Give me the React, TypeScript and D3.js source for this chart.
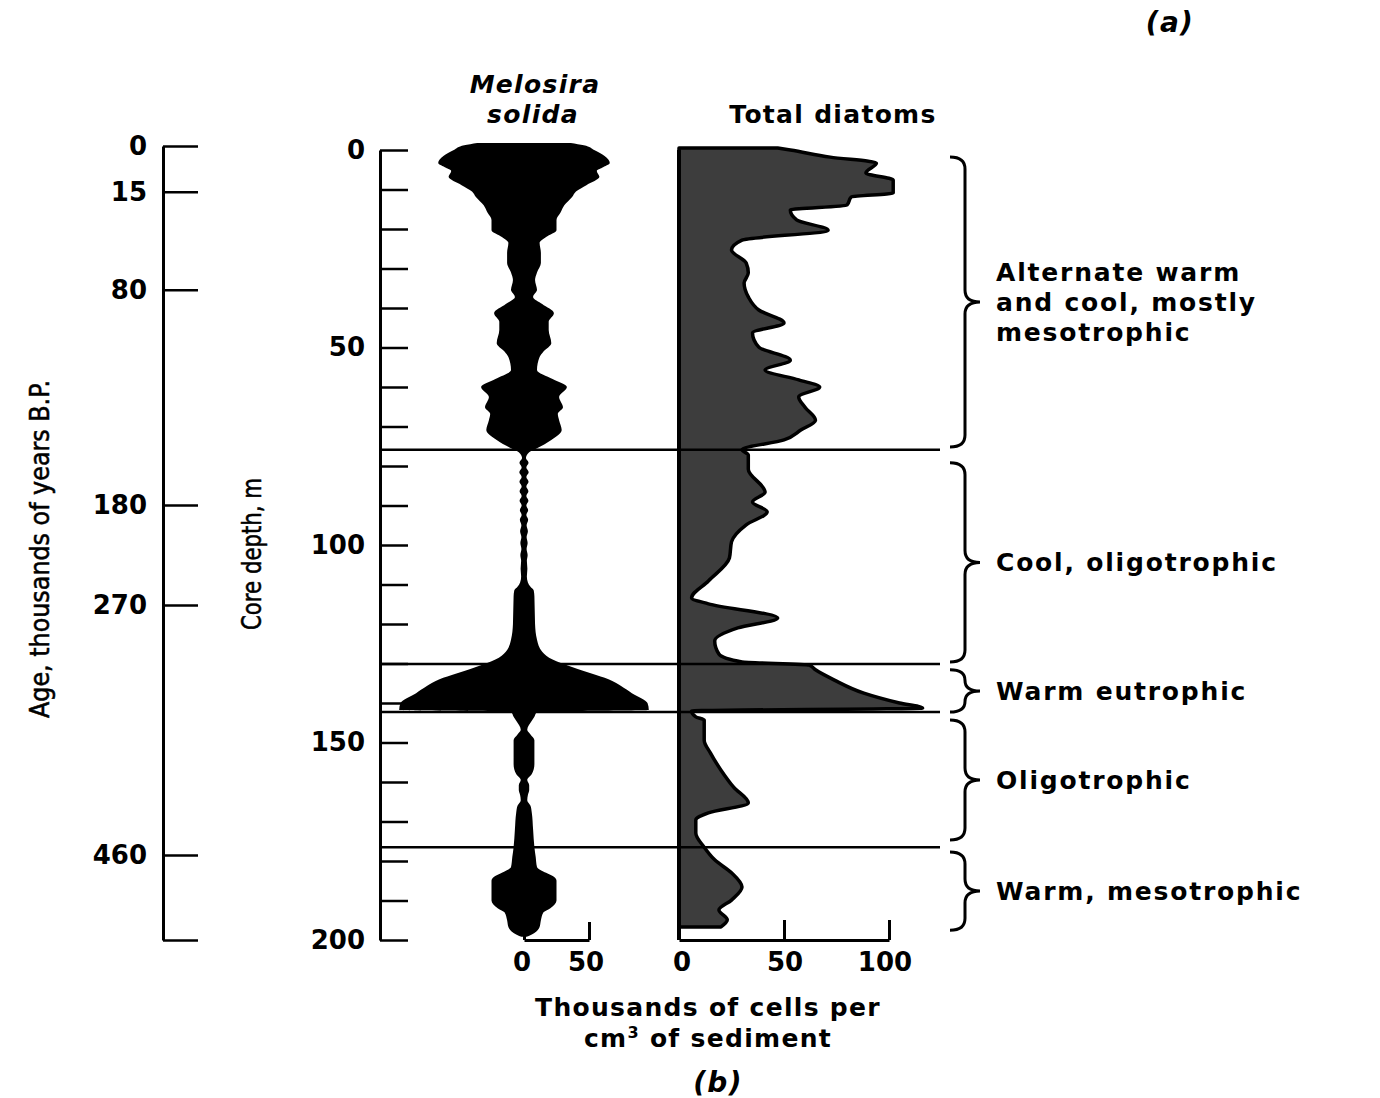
import { useEffect, useRef } from 'react';
import * as d3 from 'd3';

// Melosira solida: half-width of the silhouette (thousands of cells per cm3) by core depth (m)
const melosiraDepth = [
  -1.8, -1.2, 0, 1.5, 3.3, 4.5, 5.3, 6.8, 8.9, 10.5, 11.9, 14, 15.9, 17.7, 20.3, 22, 23.5, 26, 28.6, 31,
  32.9, 35.4, 37.2, 39, 41.3, 43.5, 45.6, 48.9, 51, 52.4, 55.7, 58, 60, 62.5, 65.1, 66.8, 68.4, 70.9, 73.4, 75.5,
  76.5, 78, 79.2, 80.4, 81.6, 82.8, 84, 85.2, 86.4, 87.6, 88.8, 90, 91.2, 92.4, 93.6, 95, 96.5, 98, 99.5, 101,
  102.5, 104, 106, 108, 109.5, 110.6, 111.5, 113, 120, 124, 127, 129, 131, 134, 137.5, 140, 141.8, 142.2, 143.5, 144.5,
  146.8, 148, 149.4, 152, 155.5, 158, 159.5, 160.8, 162, 163.3, 164.6, 166, 167.8, 172, 176.5, 179, 181.5, 183, 184, 185,
  190, 192, 193, 195, 196.7, 198.2, 199.2,
];
const melosiraValue = [
  36, 46, 54, 62, 66, 60, 56, 58, 48, 40, 37, 31, 28, 25, 25, 17, 12, 13, 13, 10,
  8.5, 10, 7, 14, 23, 19, 19, 21, 15, 12, 10, 22, 33, 27, 30, 26, 27, 29, 21, 10,
  4, 1.5, 3.5, 1.8, 3.6, 1.8, 3.5, 1.8, 3.4, 1.8, 3.4, 1.8, 3.2, 1.8, 3.2, 2, 3, 2, 2.8, 2,
  2.8, 2.2, 2.6, 2.2, 3, 5, 7.5, 8, 8.5, 10, 14, 22, 38, 65, 83, 95, 96, 10, 8, 6,
  2.5, 5, 8, 8, 8, 6, 2.5, 4, 4, 3, 2.5, 5, 6, 7, 8, 9, 10, 17, 23, 25,
  25, 20, 15, 13, 12, 8, 2,
];

// Total diatoms (thousands of cells per cm3) by core depth (m)
const diatomDepth = [
  -0.5, 0, 1.8, 3.3, 5.8, 7.6, 10.9, 11.9, 13.9, 15.2, 17.7, 20.3, 22.8, 25.3, 28.6, 31.1, 33.7, 37.2, 40.5, 43.8,
  46.3, 49.9, 53.2, 55.7, 58.2, 60, 62.5, 65.1, 68.4, 70.9, 73.4, 75.9, 77.2, 80.8, 86.6, 89.1, 91.6, 94.9, 99.2, 103.3,
  109.1, 113.4, 114.9, 118.5, 121, 124.3, 127.6, 129.6, 130.4, 131.6, 134.2, 137.5, 140, 141.3, 142, 143.5, 144.3, 149.4, 152.7, 157,
  161.3, 165.3, 167.8, 169.6, 172.9, 176.5, 179.7, 183, 186.6, 189.9, 192.4, 194.9, 196.7,
];
const diatomValue = [
  47, 53, 72, 94, 89, 102, 102, 82, 80, 53, 56, 71, 30, 25, 32, 33, 31, 33, 38, 50,
  35, 38, 53, 41, 57, 67, 57, 60, 65, 58, 50, 30, 33, 33, 41, 35, 42, 32, 25, 24,
  14, 6, 14, 47, 28, 17, 19, 30, 62, 65, 74, 88, 105, 116, 6, 8, 12, 12, 15, 20,
  26, 33, 14, 8, 8, 12, 17, 25, 30, 25, 19, 23, 20,
];

const ageLabels = [0, 15, 80, 180, 270, 460];
const ageTickDepth = [-1, 10.6, 35.4, 89.9, 115.2, 178.5];
const depthLabels = [0, 50, 100, 150, 200];
const zoneBoundaries = [75.9, 130.1, 142.3, 176.5];
const zoneStart = [1.8, 79.2, 131.6, 144.3, 177.7];
const zoneEnd = [75.2, 129.6, 142.3, 174.7, 197.5];
const zoneLabels = [
  ['Alternate warm', 'and cool, mostly', 'mesotrophic'],
  ['Cool, oligotrophic'],
  ['Warm eutrophic'],
  ['Oligotrophic'],
  ['Warm, mesotrophic'],
];

const FONT = '"DejaVu Sans", Verdana, sans-serif';
const NARROW = '"DejaVu Sans Condensed", "Liberation Sans Narrow", "Liberation Sans", sans-serif';

const App = () => {
  const ref = useRef<SVGSVGElement | null>(null);

  useEffect(() => {
    if (!ref.current) return;
    const svg = d3.select(ref.current);
    svg.selectAll('*').remove();

    const width = 1380;
    const height = 1098;
    svg.attr('width', width).attr('height', height);
    svg.append('rect').attr('width', width).attr('height', height).attr('fill', '#fff');

    // scales
    const y = d3.scaleLinear().domain([0, 200]).range([150, 940]);
    const axisX = 380;
    const melCenter = 524;
    const xMel = d3.scaleLinear().domain([0, 50]).range([melCenter, 589]);
    const xDia = d3.scaleLinear().domain([0, 100]).range([679, 889]);

    // Melosira silhouette (mirrored)
    const mel = melosiraDepth.map((d, i) => ({ d, v: melosiraValue[i] }));
    const melArea = d3.area<{ d: number; v: number }>()
      .y(p => y(p.d))
      .x0(p => 2 * melCenter - xMel(p.v))
      .x1(p => xMel(p.v))
      .curve(d3.curveMonotoneY);
    svg.append('path').attr('d', melArea(mel) || '').attr('fill', '#000');

    // Total diatoms
    const dia = diatomDepth.map((d, i) => ({ d, v: diatomValue[i] }));
    const diaArea = d3.area<{ d: number; v: number }>()
      .y(p => y(p.d))
      .x0(xDia(0))
      .x1(p => xDia(p.v))
      .curve(d3.curveMonotoneY);
    svg.append('path')
      .attr('d', diaArea(dia) || '')
      .attr('fill', '#3d3d3d')
      .attr('stroke', '#000')
      .attr('stroke-width', 3.5)
      .attr('stroke-linejoin', 'round');

    // zone boundaries
    svg.append('g').selectAll('line')
      .data(zoneBoundaries)
      .enter()
      .append('line')
      .attr('x1', axisX)
      .attr('x2', 940)
      .attr('y1', d => y(d))
      .attr('y2', d => y(d))
      .attr('stroke', '#000')
      .attr('stroke-width', 2.5);

    // diatom baseline
    svg.append('line')
      .attr('x1', xDia(0)).attr('x2', xDia(0))
      .attr('y1', y(0)).attr('y2', y(200))
      .attr('stroke', '#000').attr('stroke-width', 4);

    // core depth axis
    const depthAxis = svg.append('g')
      .attr('transform', `translate(${axisX},0)`)
      .call(d3.axisLeft(y)
        .tickValues(d3.range(0, 201, 10))
        .tickSizeInner(-28)
        .tickSizeOuter(0)
        .tickPadding(15)
        .tickFormat(d => (depthLabels.includes(+d) ? String(d) : '')));
    depthAxis.select('.domain').attr('stroke-width', 3);
    depthAxis.selectAll('.tick line').attr('stroke-width', 2.5);
    depthAxis.selectAll('text')
      .style('font-family', FONT).style('font-size', '26px').style('font-weight', 'bold')
      .attr('fill', '#000');

    // age axis
    const yAge = d3.scaleLinear().domain([-1, 200]).range([y(-1), y(200)]);
    const ageAxis = svg.append('g')
      .attr('transform', 'translate(163,0)')
      .call(d3.axisLeft(yAge)
        .tickValues([...ageTickDepth, 200])
        .tickSizeInner(-35)
        .tickSizeOuter(0)
        .tickPadding(16)
        .tickFormat((d, i) => (i < ageLabels.length ? String(ageLabels[i]) : '')));
    ageAxis.select('.domain').attr('stroke-width', 3);
    ageAxis.selectAll('.tick line').attr('stroke-width', 2.5);
    ageAxis.selectAll('text')
      .style('font-family', FONT).style('font-size', '26px').style('font-weight', 'bold')
      .attr('fill', '#000');

    // bottom scales
    const melAxis = svg.append('g')
      .attr('transform', `translate(0,${y(200)})`)
      .call(d3.axisTop(xMel).tickValues([0, 50]).tickSizeInner(18).tickSizeOuter(0).tickFormat(() => ''));
    melAxis.select('.domain').attr('stroke-width', 3);
    melAxis.selectAll('.tick line').attr('stroke-width', 3);

    const diaAxis = svg.append('g')
      .attr('transform', `translate(0,${y(200)})`)
      .call(d3.axisTop(xDia).tickValues([50, 100]).tickSizeInner(20).tickSizeOuter(0).tickFormat(() => ''));
    diaAxis.select('.domain').attr('stroke-width', 3);
    diaAxis.selectAll('.tick line').attr('stroke-width', 3);

    const bottomLabels = [
      { x: xMel(0) - 2, t: '0' }, { x: xMel(50) - 3, t: '50' },
      { x: xDia(0) + 3, t: '0' }, { x: xDia(50) + 1, t: '50' }, { x: xDia(100) - 4, t: '100' },
    ];
    svg.append('g').selectAll('text')
      .data(bottomLabels)
      .enter()
      .append('text')
      .attr('x', d => d.x)
      .attr('y', 971)
      .attr('text-anchor', 'middle')
      .style('font-family', FONT).style('font-size', '26px').style('font-weight', 'bold')
      .text(d => d.t);

    // braces and zone labels
    const brace = (y1: number, y2: number) => {
      const x0 = 950, x1 = 965, x2 = 980;
      const ym = (y1 + y2) / 2;
      const r = Math.min(12, (y2 - y1) / 4);
      return `M${x0},${y1} Q${x1},${y1} ${x1},${y1 + r} L${x1},${ym - r} Q${x1},${ym} ${x2},${ym}` +
        ` Q${x1},${ym} ${x1},${ym + r} L${x1},${y2 - r} Q${x1},${y2} ${x0},${y2}`;
    };
    zoneStart.forEach((s, i) => {
      const y1 = y(s);
      const y2 = y(zoneEnd[i]);
      svg.append('path').attr('d', brace(y1, y2)).attr('fill', 'none')
        .attr('stroke', '#000').attr('stroke-width', 3);
      const lines = zoneLabels[i];
      const ym = (y1 + y2) / 2;
      lines.forEach((ln, j) => {
        svg.append('text')
          .attr('x', 996)
          .attr('y', ym + (j - (lines.length - 1) / 2) * 30 + 9)
          .style('font-family', FONT).style('font-size', '25px').style('font-weight', 'bold')
          .style('letter-spacing', '1.8px')
          .text(ln);
      });
    });

    // headers
    const hdr = (x: number, yy: number, t: string, italic = false, size = 25) =>
      svg.append('text').attr('x', x).attr('y', yy).attr('text-anchor', 'middle')
        .style('font-family', FONT).style('font-size', `${size}px`).style('font-weight', 'bold')
        .style('letter-spacing', '1.3px')
        .style('font-style', italic ? 'italic' : 'normal').text(t);
    hdr(535, 93, 'Melosira', true);
    hdr(533, 123, 'solida', true);
    hdr(833, 123, 'Total diatoms');
    hdr(1170, 32, '(a)', true, 28);
    hdr(718, 1092, '(b)', true, 28);
    hdr(708, 1016, 'Thousands of cells per');
    const cm = svg.append('text').attr('x', 708).attr('y', 1047).attr('text-anchor', 'middle')
      .style('font-family', FONT).style('font-size', '25px').style('font-weight', 'bold')
      .style('letter-spacing', '1.3px');
    cm.append('tspan').text('cm');
    cm.append('tspan').attr('dy', -9).style('font-size', '16px').text('3');
    cm.append('tspan').attr('dy', 9).text('  of sediment');

    // rotated axis titles
    svg.append('text')
      .attr('transform', 'translate(49,549) rotate(-90)')
      .attr('text-anchor', 'middle')
      .attr('textLength', 338)
      .attr('lengthAdjust', 'spacingAndGlyphs')
      .attr('stroke', '#000').attr('stroke-width', 0.5)
      .style('font-family', NARROW).style('font-size', '26px')
      .text('Age, thousands of years B.P.');
    svg.append('text')
      .attr('transform', 'translate(261,554) rotate(-90)')
      .attr('text-anchor', 'middle')
      .attr('textLength', 152)
      .attr('lengthAdjust', 'spacingAndGlyphs')
      .attr('stroke', '#000').attr('stroke-width', 0.5)
      .style('font-family', NARROW).style('font-size', '26px')
      .text('Core depth, m');
  }, []);

  return (
    <div style={{ position: 'absolute', left: 0, top: 0 }}>
      <svg ref={ref} style={{ display: 'block' }}></svg>
    </div>
  );
};

export default App;
